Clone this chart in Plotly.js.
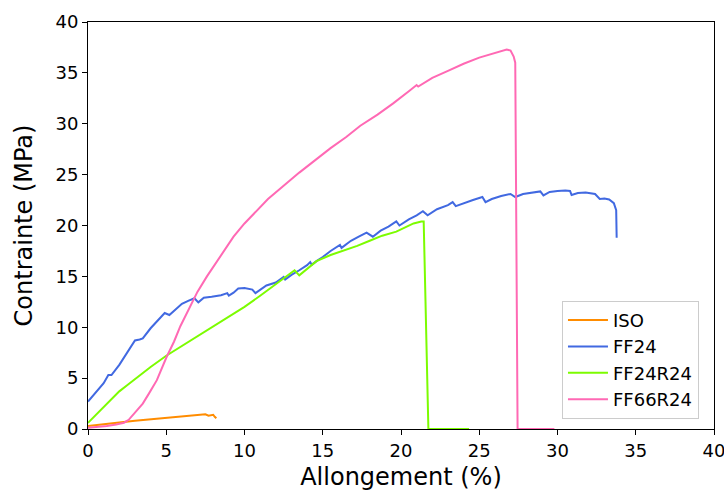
<!DOCTYPE html>
<html>
<head>
<meta charset="utf-8">
<script src="https://cdn.plot.ly/plotly-3.0.1.min.js"></script>
<style>body{margin:0;padding:0;background:#fff;} #chart{width:724px;height:492px;}</style>
</head>
<body>
<div id="chart"></div>
<script>
const seriesNames = ["ISO", "FF24", "FF24R24", "FF66R24"];

const isoX = [0, 1, 2, 3, 4, 5, 6, 7, 7.5, 7.7, 8.0, 8.1, 8.2];
const isoY = [0.3, 0.5, 0.65, 0.8, 0.95, 1.05, 1.2, 1.35, 1.45, 1.3, 1.4, 1.2, 1.05];

const ff24X = [0, 0.5, 1.0, 1.3, 1.5, 2.0, 2.5, 3.0, 3.3, 3.5, 4.0, 4.5, 4.9, 5.2, 5.6, 6.0, 6.4, 6.8, 7.05, 7.4, 7.9, 8.5, 8.9, 9.0, 9.3, 9.6, 10.0, 10.5, 10.7, 11.0, 11.4, 12.0, 12.5, 12.6, 13.0, 13.5, 14.0, 14.2, 14.3, 14.6, 15.0, 15.5, 16.1, 16.2, 16.8, 17.3, 17.8, 18.2, 18.7, 19.2, 19.7, 19.9, 20.5, 21.0, 21.4, 21.7, 22.3, 23.0, 23.3, 23.5, 24.0, 24.6, 25.2, 25.4, 25.8, 26.4, 27.0, 27.3, 27.8, 28.4, 28.9, 29.1, 29.5, 30.0, 30.5, 30.8, 30.9, 31.3, 31.8, 32.4, 32.7, 33.0, 33.3, 33.6, 33.75, 33.78];
const ff24Y = [2.7, 3.6, 4.5, 5.3, 5.3, 6.3, 7.5, 8.7, 8.8, 8.9, 9.9, 10.7, 11.4, 11.2, 11.8, 12.3, 12.6, 12.85, 12.45, 12.9, 13.0, 13.15, 13.35, 13.1, 13.4, 13.8, 13.85, 13.7, 13.35, 13.7, 14.1, 14.4, 14.95, 14.7, 15.15, 15.6, 16.1, 16.4, 16.15, 16.5, 16.9, 17.5, 18.1, 17.8, 18.5, 18.9, 19.3, 18.9, 19.5, 19.9, 20.4, 20.0, 20.6, 21.0, 21.4, 21.0, 21.6, 22.0, 22.3, 21.9, 22.2, 22.5, 22.8, 22.3, 22.6, 22.9, 23.1, 22.8, 23.1, 23.2, 23.35, 22.95, 23.3, 23.4, 23.45, 23.4, 23.0, 23.2, 23.25, 23.1, 22.6, 22.65, 22.55, 22.2, 21.5, 18.8];

const ff24r24X = [0, 0.5, 1, 1.5, 2, 2.5, 3, 3.5, 4, 5, 6, 7, 8, 9, 10, 11, 12, 12.6, 13.2, 13.5, 14.0, 14.6, 15.5, 16.3, 17.2, 18.0, 18.8, 19.7, 20.3, 20.8, 21.3, 21.45, 21.75, 24.35];
const ff24r24Y = [0.6, 1.4, 2.1, 2.9, 3.7, 4.3, 4.9, 5.5, 6.1, 7.2, 8.15, 9.1, 10.05, 11.0, 12.0, 13.1, 14.2, 14.9, 15.6, 15.1, 15.7, 16.5, 17.1, 17.5, 18.0, 18.5, 19.0, 19.4, 19.8, 20.2, 20.4, 20.4, 0, 0];

const ff66r24X = [0, 0.6, 1.2, 1.8, 2.3, 2.6, 2.9, 3.2, 3.5, 3.9, 4.4, 5.0, 5.5, 5.9, 6.5, 7.0, 7.6, 8.2, 8.7, 9.3, 10.0, 10.6, 11.5, 12.5, 13.5, 14.5, 15.5, 16.5, 17.4, 18.5, 19.5, 20.5, 21.0, 21.1, 22.0, 23.0, 24.0, 25.0, 25.7, 26.3, 26.75, 27.0, 27.2, 27.3, 27.45, 29.8];
const ff66r24Y = [0.13, 0.18, 0.3, 0.45, 0.62, 0.9, 1.4, 1.9, 2.5, 3.5, 4.8, 7.0, 8.6, 10.1, 12.0, 13.5, 15.0, 16.4, 17.6, 18.9, 20.2, 21.2, 22.6, 23.9, 25.2, 26.4, 27.6, 28.7, 29.8, 30.9, 32.0, 33.2, 33.8, 33.65, 34.5, 35.2, 35.9, 36.5, 36.85, 37.1, 37.3, 37.2, 36.6, 36.0, 0, 0];

const xTicks = [0, 5, 10, 15, 20, 25, 30, 35, 40];
const yTicks = [0, 5, 10, 15, 20, 25, 30, 35, 40];
const xTitle = "Allongement (%)";
const yTitle = "Contrainte (MPa)";

const colors = ["#ff8c00", "#4169e1", "#7cfc00", "#ff69b4"];
const xs = [isoX, ff24X, ff24r24X, ff66r24X];
const ys = [isoY, ff24Y, ff24r24Y, ff66r24Y];

const traces = seriesNames.map((n, i) => ({
  x: xs[i], y: ys[i], name: n, type: "scatter", mode: "lines",
  line: {color: colors[i], width: 2}
}));

const font = "DejaVu Sans, sans-serif";
const axisCommon = {
  showgrid: false, zeroline: false, showline: true, mirror: true,
  linecolor: "#000", linewidth: 1, ticks: "outside", ticklen: 5, tickwidth: 1,
  tickcolor: "#000", tickfont: {family: font, size: 18, color: "#000"},
  ticklabeloverflow: "allow"
};

const layout = {
  width: 724, height: 492,
  margin: {l: 88, r: 10, t: 22, b: 63},
  paper_bgcolor: "#fff", plot_bgcolor: "#fff",
  font: {family: font, color: "#000"},
  xaxis: Object.assign({}, axisCommon, {
    range: [0, 40], tickvals: xTicks, ticktext: xTicks.map(String),
    title: {text: xTitle, font: {family: font, size: 24, color: "#000"}, standoff: 8}
  }),
  yaxis: Object.assign({}, axisCommon, {
    range: [0, 40], tickvals: yTicks, ticktext: yTicks.map(String),
    title: {text: yTitle, font: {family: font, size: 24, color: "#000"}, standoff: 16}
  }),
  showlegend: true,
  legend: {
    x: 0.976, y: 0.025, xanchor: "right", yanchor: "bottom",
    bgcolor: "rgba(255,255,255,0.8)", bordercolor: "#cccccc", borderwidth: 1,
    font: {family: font, size: 18, color: "#000"}, tracegroupgap: 0,
    itemwidth: 40
  }
};

Plotly.newPlot("chart", traces, layout, {displayModeBar: false, staticPlot: true});
</script>
</body>
</html>
